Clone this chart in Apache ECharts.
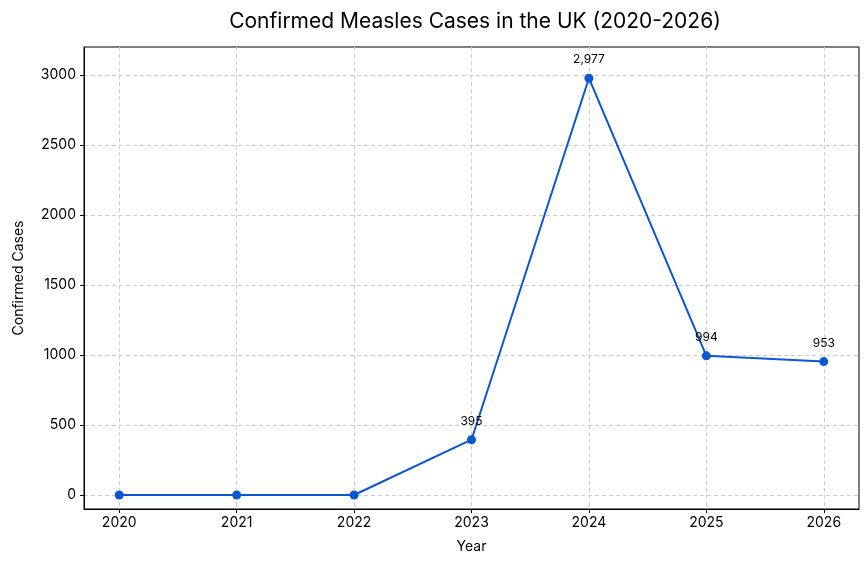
<!DOCTYPE html>
<html>
<head>
<meta charset="utf-8">
<script src="https://cdn.jsdelivr.net/npm/echarts@6/dist/echarts.min.js"></script>
<style>
  html, body { margin: 0; padding: 0; background: #fff; }
  #chart { width: 867px; height: 566px; }
</style>
</head>
<body>
<div id="chart"></div>
<script>
// confirmed measles cases, UK
var years = [2020, 2021, 2022, 2023, 2024, 2025, 2026];
var cases = [0, 0, 0, 395, 2977, 994, 953];
var labelled = [2023, 2024, 2025, 2026];
var yTicks = [0, 500, 1000, 1500, 2000, 2500, 3000];

var FONT = 'Inter, "Noto Sans", sans-serif';
var LINE = '#0b57d0';

var chart = echarts.init(document.getElementById('chart'));

var points = years.map(function(y, i) {
  return {
    value: [y, cases[i]],
    label: { show: labelled.indexOf(y) >= 0 }
  };
});

var option = {
  animation: false,
  title: {
    text: 'Confirmed Measles Cases in the UK (2020-2026)',
    left: 470,
    top: 6,
    textAlign: 'center',
    textStyle: { fontFamily: FONT, fontSize: 21, fontWeight: 'normal', color: '#000' }
  },
  grid: {
    left: 84, right: 8, top: 47, bottom: 57,
    outerBoundsMode: 'none',
    containLabel: false,
    show: true, borderColor: '#000', borderWidth: 1
  },
  xAxis: {
    type: 'value',
    min: 2019.7,
    max: 2026.3,
    name: 'Year',
    nameLocation: 'middle',
    nameGap: 31,
    nameTextStyle: { fontFamily: FONT, fontSize: 14, color: '#000' },
    axisLine: { show: true, onZero: false, lineStyle: { color: '#000', width: 1 } },
    axisTick: { show: true, inside: false, length: 4, customValues: years, lineStyle: { color: '#000' } },
    axisLabel: {
      customValues: years, margin: 7,
      fontFamily: FONT, fontSize: 14, color: '#000',
      formatter: function(v) { return String(v); }
    },
    splitLine: { show: true, lineStyle: { color: '#cccccc', type: [4, 3], width: 1 } }
  },
  yAxis: {
    type: 'value',
    min: -100,
    max: 3200,
    name: 'Confirmed Cases',
    nameLocation: 'middle',
    nameGap: 58,
    nameTextStyle: { fontFamily: FONT, fontSize: 14, color: '#000' },
    axisLine: { show: true, onZero: false, lineStyle: { color: '#000', width: 1 } },
    axisTick: { show: true, inside: false, length: 4, customValues: yTicks, lineStyle: { color: '#000' } },
    axisLabel: {
      customValues: yTicks, margin: 8,
      fontFamily: FONT, fontSize: 14, color: '#000',
      formatter: function(v) { return String(v); }
    },
    splitLine: { show: true, lineStyle: { color: '#cccccc', type: [4, 3], width: 1 } }
  },
  series: [{
    type: 'line',
    data: points,
    symbol: 'circle',
    symbolSize: 9,
    lineStyle: { color: LINE, width: 2 },
    itemStyle: { color: LINE },
    label: {
      position: 'top',
      distance: 8,
      fontFamily: FONT,
      fontSize: 12,
      color: '#000',
      formatter: function(p) { return p.value[1].toLocaleString('en-US'); }
    },
    z: 3
  }]
};

chart.setOption(option);
</script>
</body>
</html>
